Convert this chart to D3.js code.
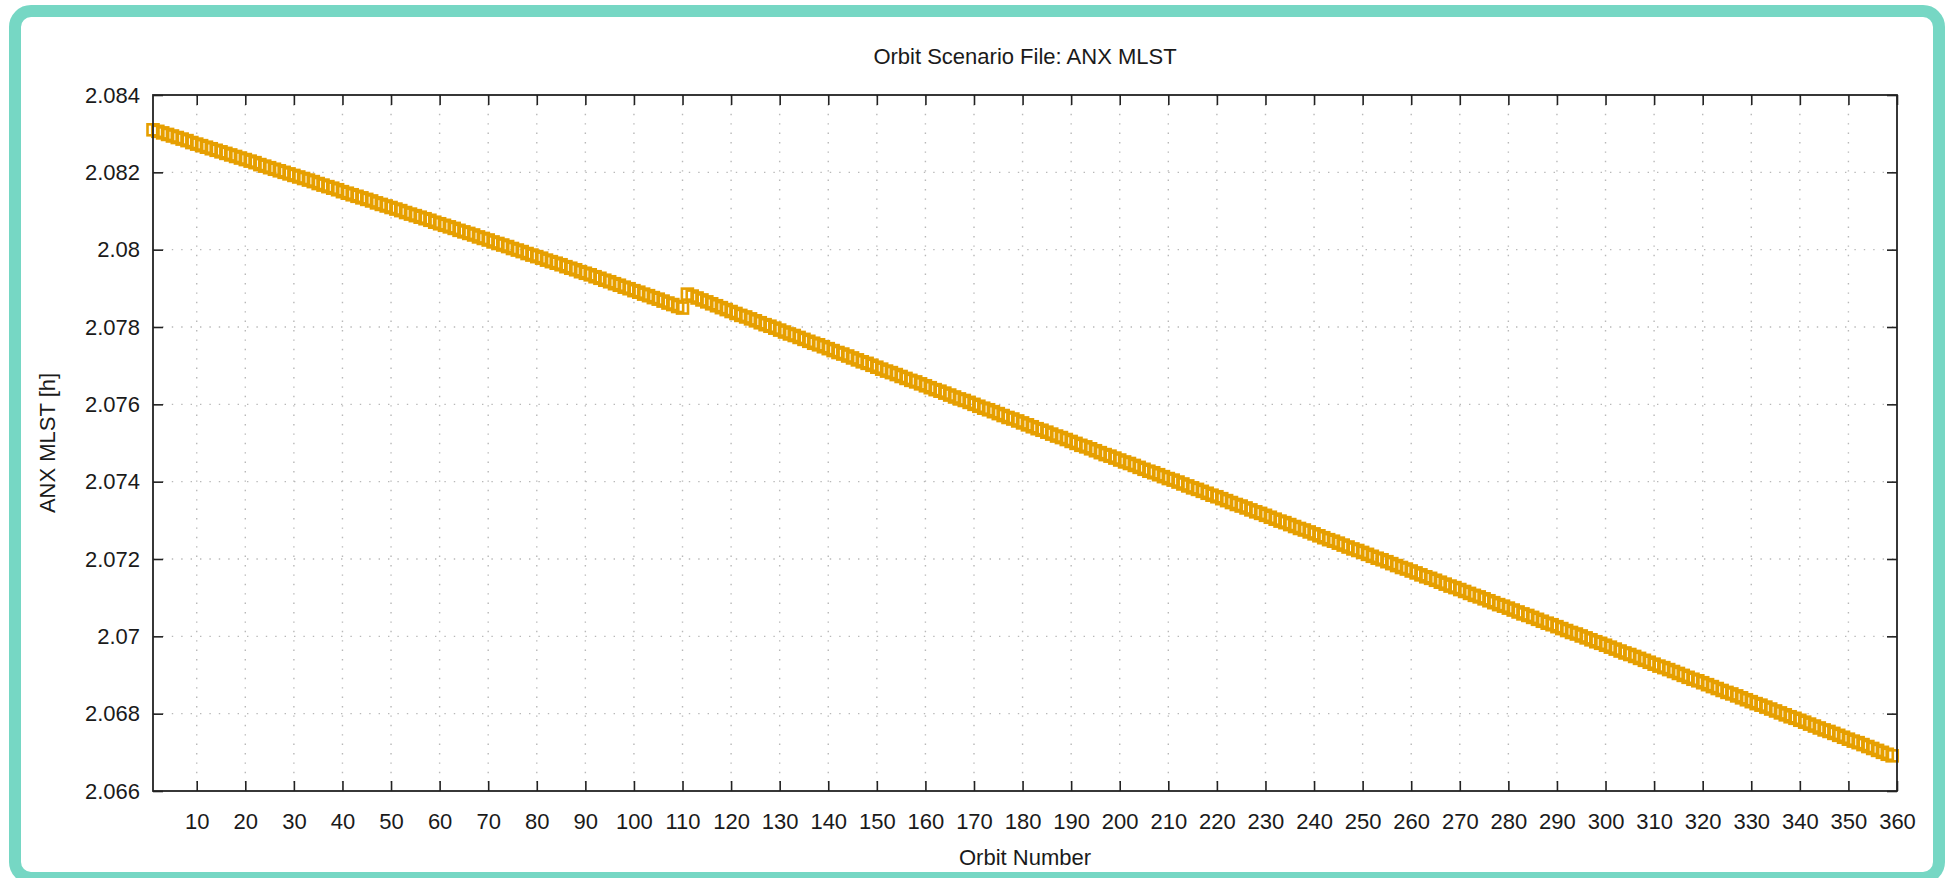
<!DOCTYPE html>
<html>
<head>
<meta charset="utf-8">
<script src="https://cdn.jsdelivr.net/npm/d3@7"></script>
<style>
  html, body { margin: 0; padding: 0; background: #fff; }
  text { font-family: "Liberation Sans", Arial, sans-serif; fill: #1a1a1a; }
</style>
</head>
<body>
<div id="chart"></div>
<script>
// ANX MLST per orbit (orbits 1..359)
const mlst = [
  2.08310, 2.08306, 2.08302, 2.08298, 2.08294, 2.08290, 2.08286, 2.08282, 2.08277, 2.08273,
  2.08269, 2.08265, 2.08261, 2.08257, 2.08253, 2.08249, 2.08245, 2.08241, 2.08237, 2.08233,
  2.08229, 2.08225, 2.08220, 2.08216, 2.08212, 2.08208, 2.08204, 2.08200, 2.08196, 2.08192,
  2.08188, 2.08184, 2.08180, 2.08176, 2.08171, 2.08167, 2.08163, 2.08159, 2.08155, 2.08150,
  2.08146, 2.08142, 2.08138, 2.08134, 2.08130, 2.08126, 2.08121, 2.08117, 2.08113, 2.08109,
  2.08105, 2.08101, 2.08096, 2.08092, 2.08088, 2.08084, 2.08080, 2.08076, 2.08071, 2.08067,
  2.08063, 2.08059, 2.08055, 2.08050, 2.08046, 2.08042, 2.08038, 2.08033, 2.08029, 2.08025,
  2.08020, 2.08016, 2.08012, 2.08008, 2.08003, 2.07999, 2.07995, 2.07990, 2.07986, 2.07982,
  2.07978, 2.07973, 2.07969, 2.07965, 2.07961, 2.07956, 2.07952, 2.07948, 2.07943, 2.07939,
  2.07935, 2.07930, 2.07926, 2.07921, 2.07917, 2.07912, 2.07908, 2.07903, 2.07899, 2.07894,
  2.07890, 2.07885, 2.07881, 2.07876, 2.07872, 2.07867, 2.07862, 2.07858, 2.07853, 2.07849,
  2.07885, 2.07880, 2.07875, 2.07870, 2.07865, 2.07860, 2.07855, 2.07850, 2.07845, 2.07840,
  2.07835, 2.07830, 2.07826, 2.07821, 2.07816, 2.07811, 2.07806, 2.07802, 2.07797, 2.07792,
  2.07787, 2.07782, 2.07778, 2.07773, 2.07768, 2.07763, 2.07758, 2.07754, 2.07749, 2.07744,
  2.07739, 2.07734, 2.07730, 2.07725, 2.07720, 2.07715, 2.07710, 2.07706, 2.07701, 2.07696,
  2.07691, 2.07686, 2.07682, 2.07677, 2.07672, 2.07667, 2.07662, 2.07658, 2.07653, 2.07648,
  2.07643, 2.07638, 2.07634, 2.07629, 2.07624, 2.07619, 2.07614, 2.07610, 2.07605, 2.07600,
  2.07595, 2.07590, 2.07586, 2.07581, 2.07576, 2.07571, 2.07566, 2.07562, 2.07557, 2.07552,
  2.07547, 2.07542, 2.07537, 2.07533, 2.07528, 2.07523, 2.07518, 2.07514, 2.07509, 2.07504,
  2.07499, 2.07494, 2.07490, 2.07485, 2.07480, 2.07475, 2.07470, 2.07466, 2.07461, 2.07456,
  2.07451, 2.07447, 2.07442, 2.07437, 2.07432, 2.07427, 2.07423, 2.07418, 2.07413, 2.07408,
  2.07404, 2.07399, 2.07394, 2.07389, 2.07384, 2.07380, 2.07375, 2.07370, 2.07365, 2.07361,
  2.07356, 2.07351, 2.07346, 2.07341, 2.07337, 2.07332, 2.07327, 2.07322, 2.07318, 2.07313,
  2.07308, 2.07303, 2.07298, 2.07294, 2.07289, 2.07284, 2.07279, 2.07275, 2.07270, 2.07265,
  2.07260, 2.07255, 2.07250, 2.07246, 2.07241, 2.07236, 2.07231, 2.07226, 2.07222, 2.07217,
  2.07212, 2.07207, 2.07202, 2.07198, 2.07193, 2.07188, 2.07183, 2.07178, 2.07174, 2.07169,
  2.07164, 2.07159, 2.07154, 2.07150, 2.07145, 2.07140, 2.07135, 2.07130, 2.07126, 2.07121,
  2.07116, 2.07111, 2.07106, 2.07102, 2.07097, 2.07092, 2.07087, 2.07082, 2.07078, 2.07073,
  2.07068, 2.07063, 2.07058, 2.07054, 2.07049, 2.07044, 2.07039, 2.07034, 2.07030, 2.07025,
  2.07020, 2.07015, 2.07010, 2.07006, 2.07001, 2.06996, 2.06991, 2.06986, 2.06982, 2.06977,
  2.06972, 2.06967, 2.06962, 2.06957, 2.06953, 2.06948, 2.06943, 2.06938, 2.06933, 2.06928,
  2.06923, 2.06919, 2.06914, 2.06909, 2.06904, 2.06899, 2.06894, 2.06889, 2.06885, 2.06880,
  2.06875, 2.06870, 2.06865, 2.06860, 2.06855, 2.06851, 2.06846, 2.06841, 2.06836, 2.06831,
  2.06826, 2.06822, 2.06817, 2.06812, 2.06807, 2.06802, 2.06797, 2.06792, 2.06788, 2.06783,
  2.06778, 2.06773, 2.06768, 2.06763, 2.06758, 2.06754, 2.06749, 2.06744, 2.06739, 2.06734,
  2.06729, 2.06725, 2.06720, 2.06715, 2.06710, 2.06705, 2.06700, 2.06695, 2.06691
];
const orbits = mlst.map((v, i) => i + 1);

const xTicks = [10, 20, 30, 40, 50, 60, 70, 80, 90, 100, 110, 120, 130, 140, 150, 160, 170, 180,
  190, 200, 210, 220, 230, 240, 250, 260, 270, 280, 290, 300, 310, 320, 330, 340, 350, 360];
const yTicks = [2.066, 2.068, 2.070, 2.072, 2.074, 2.076, 2.078, 2.080, 2.082, 2.084];

const W = 1947, H = 878;
const plot = { left: 153, right: 1897, top: 95, bottom: 791 };
const tickLen = 10;

const svg = d3.select("#chart").append("svg")
  .attr("width", W)
  .attr("height", H);

// teal frame
svg.append("rect")
  .attr("x", 15).attr("y", 11)
  .attr("width", 1924).attr("height", 867)
  .attr("rx", 16)
  .style("fill", "#fff")
  .style("stroke", "#76d7c4")
  .style("stroke-width", 12);

const x = d3.scaleLinear().domain([1, 360]).range([plot.left, plot.right]);
const y = d3.scaleLinear().domain([2.066, 2.084]).range([plot.bottom, plot.top]);

// dotted grid
const grid = svg.append("g").attr("class", "grid")
  .style("stroke", "#b8b8b8")
  .style("stroke-width", 1.4)
  .style("stroke-dasharray", "1.4,8");

grid.selectAll("line.gx").data(xTicks.filter(d => d < 360)).enter().append("line")
  .attr("x1", d => x(d)).attr("x2", d => x(d))
  .attr("y1", plot.top).attr("y2", plot.bottom);

grid.selectAll("line.gy").data(yTicks.filter(d => d > 2.066 && d < 2.084)).enter().append("line")
  .attr("x1", plot.left).attr("x2", plot.right)
  .attr("y1", d => y(d)).attr("y2", d => y(d));

// data points: open squares
const s = 5.5;
svg.append("g").selectAll("rect")
  .data(mlst).enter().append("rect")
  .attr("x", (d, i) => x(orbits[i]) - s)
  .attr("y", d => y(d) - s)
  .attr("width", 2 * s).attr("height", 2 * s)
  .style("fill", "none")
  .style("stroke", "#e69f00")
  .style("stroke-width", 2.6);

// axes with inward ticks (gnuplot style), mirrored
const fmt = d => String(+d.toFixed(3));

const xBottom = d3.axisBottom(x).tickValues(xTicks).tickSize(-tickLen).tickPadding(22).tickFormat(d => d);
const xTop = d3.axisTop(x).tickValues(xTicks).tickSize(-tickLen).tickFormat("");
const yLeft = d3.axisLeft(y).tickValues(yTicks).tickSize(-tickLen).tickPadding(13).tickFormat(fmt);
const yRight = d3.axisRight(y).tickValues(yTicks).tickSize(-tickLen).tickFormat("");

function styleAxis(g) {
  g.select(".domain").remove();
  g.selectAll(".tick line").style("stroke", "#222").style("stroke-width", 1.6);
  g.selectAll(".tick text")
    .style("font-family", "'Liberation Sans', Arial, sans-serif")
    .style("font-size", "22px")
    .style("fill", "#1a1a1a");
}

svg.append("g").attr("transform", `translate(0,${plot.bottom})`).call(xBottom).call(styleAxis);
svg.append("g").attr("transform", `translate(0,${plot.top})`).call(xTop).call(styleAxis);
svg.append("g").attr("transform", `translate(${plot.left},0)`).call(yLeft).call(styleAxis);
svg.append("g").attr("transform", `translate(${plot.right},0)`).call(yRight).call(styleAxis);

// plot border
svg.append("rect")
  .attr("x", plot.left).attr("y", plot.top)
  .attr("width", plot.right - plot.left).attr("height", plot.bottom - plot.top)
  .style("fill", "none")
  .style("stroke", "#222")
  .style("stroke-width", 1.8);

// titles
svg.append("text")
  .attr("x", (plot.left + plot.right) / 2).attr("y", 64)
  .attr("text-anchor", "middle")
  .style("font-size", "22px")
  .text("Orbit Scenario File: ANX MLST");

svg.append("text")
  .attr("x", (plot.left + plot.right) / 2).attr("y", 865)
  .attr("text-anchor", "middle")
  .style("font-size", "22px")
  .text("Orbit Number");

svg.append("text")
  .attr("transform", `translate(55,${(plot.top + plot.bottom) / 2}) rotate(-90)`)
  .attr("text-anchor", "middle")
  .style("font-size", "22px")
  .text("ANX MLST [h]");
</script>
</body>
</html>
